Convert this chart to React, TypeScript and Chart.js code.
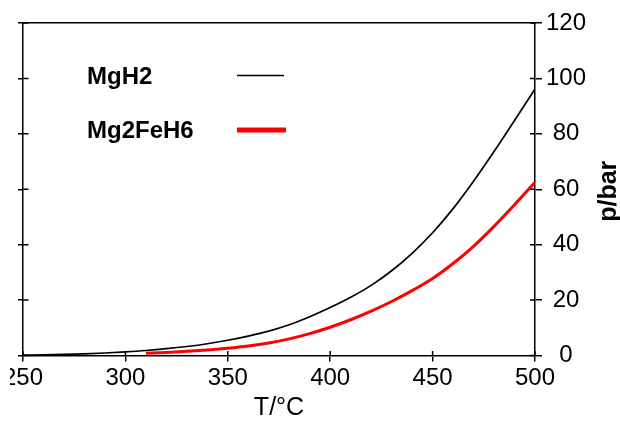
import React, { useEffect, useRef } from "react";
import { Chart, registerables } from "chart.js";

Chart.register(...registerables);

const temperatures = [250, 260, 270, 280, 290, 300, 310, 320, 330, 340, 350, 360, 370, 380, 390, 400, 410, 420, 430, 440, 450, 460, 470, 480, 490, 500];
const mgh2 = [0.15, 0.25, 0.4, 0.6, 0.9, 1.3, 1.8, 2.45, 3.25, 4.25, 5.5, 7.0, 8.8, 11.1, 14.0, 17.3, 21.0, 25.3, 30.6, 36.9, 44.3, 53.0, 62.9, 73.6, 84.8, 96.2];
const mg2feh6 = [null, null, null, null, null, null, 0.8, 1.1, 1.5, 2.0, 2.6, 3.4, 4.5, 6.0, 7.9, 10.2, 12.9, 16.0, 19.5, 23.4, 27.8, 33.2, 39.4, 46.6, 54.4, 62.5];
const seriesNames = ["MgH2", "Mg2FeH6"];
const xTitle = "T/°C";
const yTitle = "p/bar";

const FONT = "'Liberation Sans', Arial, sans-serif";

const overlayPlugin = {
  id: "overlay",
  afterDraw(chart: any) {
    const ctx = chart.ctx;
    const area = chart.chartArea;
    const sx = chart.scales.x;
    const sy = chart.scales.y;
    const sl = chart.scales.yl;
    ctx.save();
    // inward tick marks
    ctx.strokeStyle = "#000";
    ctx.lineWidth = 1.5;
    ctx.beginPath();
    sx.ticks.forEach((t: any) => {
      const px = sx.getPixelForValue(t.value);
      ctx.moveTo(px, area.bottom);
      ctx.lineTo(px, area.bottom - 4.5);
    });
    sy.ticks.forEach((t: any) => {
      const py = sy.getPixelForValue(t.value);
      ctx.moveTo(area.right, py);
      ctx.lineTo(area.right - 5, py);
    });
    sl.ticks.forEach((t: any) => {
      const py = sl.getPixelForValue(t.value);
      ctx.moveTo(area.left, py);
      ctx.lineTo(area.left + 5.5, py);
    });
    ctx.stroke();

    // legend
    ctx.fillStyle = "#000";
    ctx.font = `bold 24px ${FONT}`;
    ctx.textAlign = "left";
    ctx.textBaseline = "middle";
    ctx.fillText(seriesNames[0], area.left + 64, area.top + 54);
    ctx.fillText(seriesNames[1], area.left + 64, area.top + 108);
    ctx.beginPath();
    ctx.lineWidth = 1.5;
    ctx.strokeStyle = "#000";
    ctx.moveTo(area.left + 214, area.top + 52.5);
    ctx.lineTo(area.left + 261, area.top + 52.5);
    ctx.stroke();
    ctx.beginPath();
    ctx.lineWidth = 5;
    ctx.strokeStyle = "#ff0000";
    ctx.moveTo(area.left + 214, area.top + 107);
    ctx.lineTo(area.left + 263, area.top + 107);
    ctx.stroke();

    // right axis title (reads bottom to top)
    ctx.translate(area.right + 74, (area.top + area.bottom) / 2 + 2);
    ctx.rotate(-Math.PI / 2);
    ctx.fillStyle = "#000";
    ctx.font = `bold 25px ${FONT}`;
    ctx.textAlign = "center";
    ctx.textBaseline = "middle";
    ctx.fillText(yTitle, 0, 0);
    ctx.restore();
  },
};

export default function App() {
  const ref = useRef<HTMLCanvasElement | null>(null);
  useEffect(() => {
    if (!ref.current) return;
    const chart = new Chart(ref.current, {
      type: "line",
      data: {
        datasets: [
          {
            label: seriesNames[0],
            data: temperatures.map((t, i) => ({ x: t, y: mgh2[i] })),
            borderColor: "#000",
            borderWidth: 1.7,
            pointRadius: 0,
            cubicInterpolationMode: "monotone",
            yAxisID: "y",
          },
          {
            label: seriesNames[1],
            data: temperatures.map((t, i) => ({ x: t, y: mg2feh6[i] as any })),
            borderColor: "#ff0000",
            borderWidth: 3,
            pointRadius: 0,
            cubicInterpolationMode: "monotone",
            spanGaps: false,
            yAxisID: "y",
          },
        ],
      },
      options: {
        animation: false,
        responsive: true,
        maintainAspectRatio: false,
        layout: { padding: 0 },
        plugins: { legend: { display: false }, tooltip: { enabled: false } },
        scales: {
          x: {
            type: "linear",
            position: "bottom",
            min: 250,
            max: 500,
            ticks: { stepSize: 50, font: { size: 24, family: FONT }, color: "#000", padding: 2, maxRotation: 0 },
            grid: { drawOnChartArea: false, tickLength: 6, color: "#000", lineWidth: 1.5 },
            border: { color: "#000", width: 1.5 },
            title: { display: true, text: xTitle, font: { size: 25, family: FONT }, color: "#000", padding: { top: 0, bottom: 0 } },
            afterFit: (s: any) => { s.height = 67.5; },
          },
          x2: {
            type: "linear",
            position: "top",
            min: 250,
            max: 500,
            ticks: { display: false },
            grid: { display: false },
            border: { color: "#000", width: 1.5 },
            afterFit: (s: any) => { s.height = 23; },
          },
          yl: {
            type: "linear",
            position: "left",
            min: 0,
            max: 120,
            ticks: { stepSize: 20, display: false },
            grid: { drawOnChartArea: false, tickLength: 5, color: "#000", lineWidth: 1.5 },
            border: { color: "#000", width: 1.5 },
            afterFit: (s: any) => { s.width = 23; },
          },
          y: {
            type: "linear",
            position: "right",
            min: 0,
            max: 120,
            ticks: { stepSize: 20, font: { size: 24, family: FONT }, color: "#000", padding: 4, crossAlign: "center" },
            grid: { drawOnChartArea: false, tickLength: 7, color: "#000", lineWidth: 1.5 },
            border: { color: "#000", width: 1.5 },
            afterFit: (s: any) => { s.width = 85; },
          },
        },
      },
      plugins: [overlayPlugin],
    } as any);
    return () => chart.destroy();
  }, []);

  return (
    <div style={{ position: "fixed", left: 0, top: 0, width: 620, height: 423, overflow: "hidden", background: "#fff" }}>
      <div style={{ position: "absolute", left: 10, top: 0, width: 610, height: 423, overflow: "hidden" }}>
        <div style={{ position: "absolute", left: -10, top: 0, width: 620, height: 423 }}>
          <canvas ref={ref} />
        </div>
      </div>
    </div>
  );
}
